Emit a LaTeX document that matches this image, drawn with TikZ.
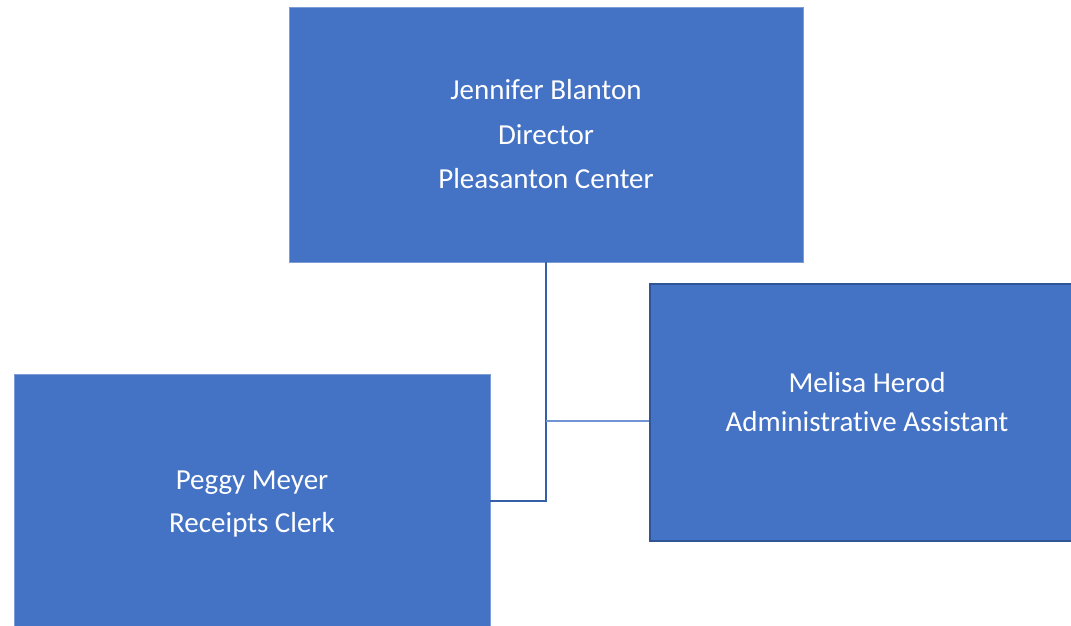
\documentclass[tikz,border=0pt]{standalone}
\usepackage{fontspec}
\setmainfont{Carlito}[Ligatures=NoCommon]
\definecolor{boxfill}{HTML}{4472C4}
\definecolor{boxedge}{HTML}{2F5597}
\definecolor{lineDark}{HTML}{3560A8}
\definecolor{lineLight}{HTML}{7094D4}
\begin{document}
\begin{tikzpicture}[x=1pt,y=-1pt,
  orgbox/.style={fill=boxfill, draw=boxfill!70!white, line width=0.8pt, minimum width=#1, inner sep=0pt, anchor=center},
  lbl/.style={text=white, font=\fontsize{29}{#1}\selectfont, align=center, inner sep=0pt, anchor=center}]
\useasboundingbox (0,0) rectangle (1071,626);
\node[orgbox=514pt, minimum height=255pt] (director) at (546,134.5) {};
\node[orgbox=476pt, minimum height=254pt] (peggy) at (252,501) {};
\node[orgbox=434pt, minimum height=257pt, draw=boxedge, line width=2.4pt] (melisa) at (867,412.5) {};
\node[lbl=44.5pt] (tdir) at (546,134.5) {Jennifer Blanton\\Director\\Pleasanton Center};
\node[lbl=43pt] (tpeg) at (252,504) {Peggy Meyer\\Receipts Clerk};
\node[lbl=39pt] (tmel) at (867,402.5) {Melisa Herod\\Administrative Assistant};
\coordinate (j) at (546,421);
\draw[lineDark, line width=2.8pt] (director.south) |- (peggy.east);
\draw[lineLight, line width=1.5pt] (j) -- (j -| melisa.west);
\end{tikzpicture}
\end{document}
